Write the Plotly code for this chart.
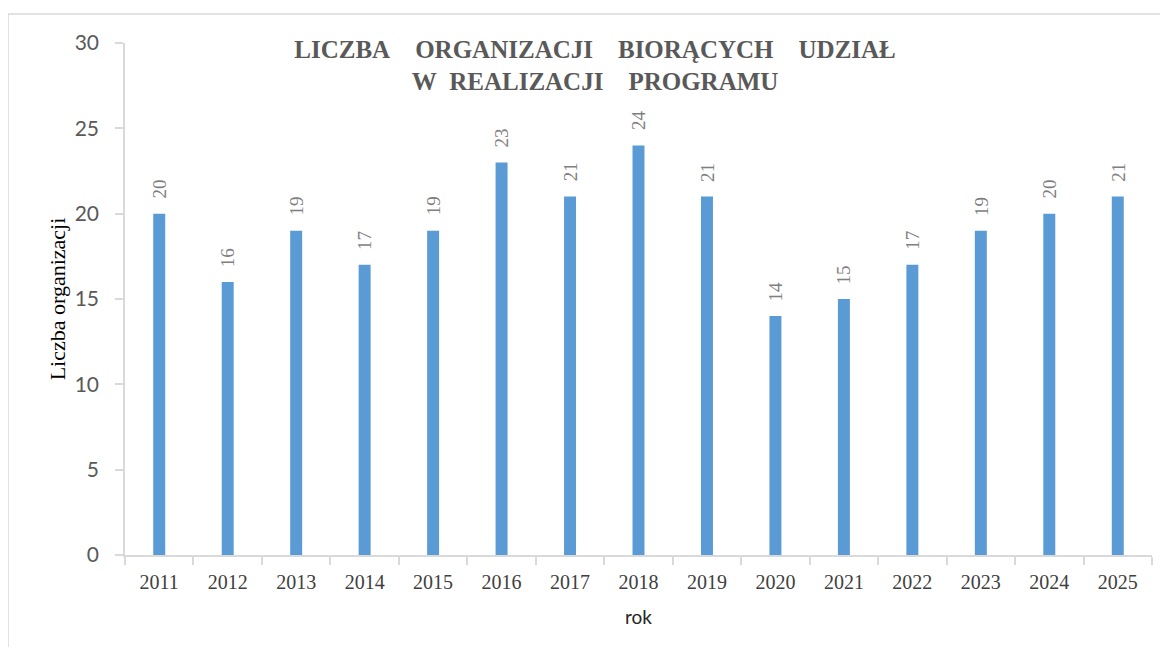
import plotly.graph_objects as go

years = ['2011', '2012', '2013', '2014', '2015', '2016', '2017', '2018',
         '2019', '2020', '2021', '2022', '2023', '2024', '2025']
counts = [20, 16, 19, 17, 19, 23, 21, 24, 21, 14, 15, 17, 19, 20, 21]

BAR_COLOR = '#5B9BD5'
GRID = '#d9d9d9'
SERIF = 'Liberation Serif, Times New Roman, serif'
SANS = 'Lato, Open Sans, sans-serif'

fig = go.Figure(go.Bar(
    x=years, y=counts,
    marker=dict(color=BAR_COLOR, line=dict(width=0)),
    hovertemplate='%{x}: %{y}<extra></extra>',
))

# rotated value labels above each bar (category index positions)
for i, v in enumerate(counts):
    fig.add_annotation(
        x=i, y=v, text=str(v), textangle=-90, showarrow=False,
        xanchor='center', yanchor='bottom', yshift=13,
        font=dict(family=SERIF, size=19, color='#7f7f7f'),
    )

gap = '&nbsp;' * 4
title_txt = (f'<b>LICZBA{gap}ORGANIZACJI{gap}BIORĄCYCH{gap}UDZIAŁ<br>'
             f'W&nbsp;&nbsp;REALIZACJI{gap}PROGRAMU</b>')

fig.update_layout(
    width=1152, height=639,
    paper_bgcolor='white', plot_bgcolor='white',
    margin=dict(l=117, r=8, t=35, b=92, autoexpand=False),
    bargap=0.825,
    showlegend=False,
    title=dict(
        text=title_txt,
        x=0.4577, xref='paper', xanchor='center',
        y=0.922, yref='container', yanchor='middle',
        font=dict(family=SERIF, size=25, color='#595959'),
    ),
    xaxis=dict(
        type='category', automargin=False,
        showline=True, linecolor=GRID, linewidth=1.5,
        ticks='outside', tickson='boundaries', ticklen=8, tickcolor=GRID, tickwidth=1.5,
        tickangle=0, ticklabelstandoff=8,
        tickfont=dict(family=SERIF, size=20, color='#404040'),
        title=dict(text='rok', font=dict(family=SANS, size=19, color='#262626'), standoff=19),
        showgrid=False,
    ),
    yaxis=dict(
        range=[0, 30], dtick=5, automargin=False,
        showline=True, linecolor=GRID, linewidth=1.5,
        ticks='outside', ticklen=8, tickcolor=GRID, tickwidth=1.5,
        ticklabelstandoff=12,
        tickfont=dict(family=SANS, size=21, color='#595959'),
        title=dict(text='Liczba organizacji', font=dict(family=SERIF, size=22, color='#000000'), standoff=3),
        showgrid=False, zeroline=False,
    ),
    shapes=[dict(
        type='rect', xref='paper', yref='paper',
        x0=-0.1139, x1=1.05, y0=-0.3, y1=1.0566,
        line=dict(color=GRID, width=1.5), layer='below',
    )],
)

fig.write_html('out.html')
